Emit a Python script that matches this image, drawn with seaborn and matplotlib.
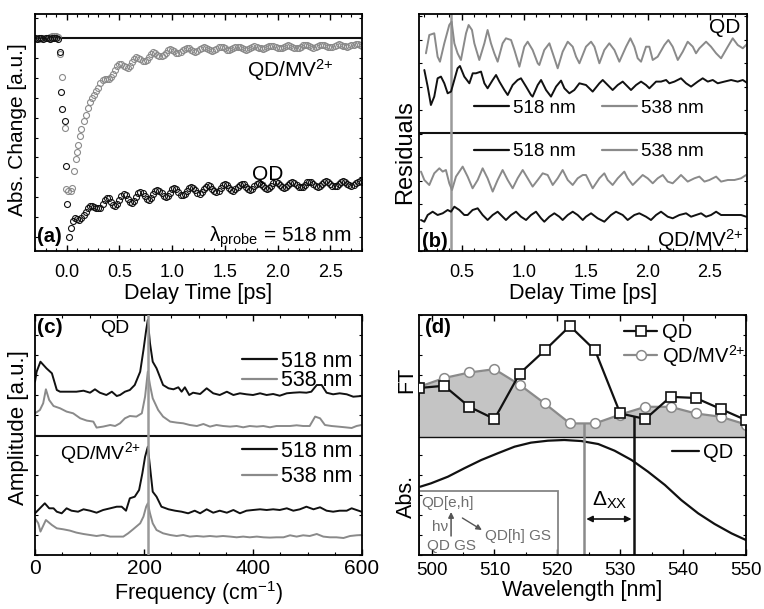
import numpy as np
import matplotlib
matplotlib.use("Agg")
import matplotlib.pyplot as plt
import seaborn as sns
from matplotlib.lines import Line2D
from matplotlib.patches import Rectangle
from matplotlib.ticker import MultipleLocator, NullFormatter

# ---------------- (a) transient absorption at 518 nm, normalised ----------------
t_pre = [-0.30, -0.28, -0.26, -0.24, -0.22, -0.20, -0.18, -0.16, -0.14, -0.12, -0.10, -0.08]
qd_pre = [0.002, -0.001, 0.003, 0.000, -0.002, 0.002, 0.001, -0.003, 0.002, 0.000, 0.004, -0.002]
mv_pre = [0.001, 0.003, -0.002, 0.002, 0.000, 0.004, 0.003, 0.006, 0.010, 0.014, 0.012, 0.008]

qd_rise_t = [-0.066, -0.054, -0.041, -0.019, -0.005, 0.006, 0.022]
qd_rise = [-0.070, -0.270, -0.355, -0.415, -0.644, -0.835, -1.000]
mv_rise_t = [-0.060, -0.041, -0.016, -0.006, 0.010, 0.038, 0.054, 0.070, 0.086, 0.100, 0.111, 0.124]
mv_rise = [-0.080, -0.193, -0.454, -0.761, -0.770, -0.768, -0.756, -0.667, -0.610, -0.571, -0.538, -0.492]

# sampled every 20 fs, QD from 0.04 ps, QD/MV from 0.14 ps
qd_tail = [-0.955, -0.920, -0.908, -0.910, -0.916, -0.908, -0.893, -0.874, -0.857, -0.847, -0.845, -0.850, -0.857,
           -0.857, -0.854, -0.833, -0.813, -0.804, -0.807, -0.823, -0.839, -0.844, -0.835,
           -0.815, -0.795, -0.786, -0.791, -0.808, -0.824, -0.829, -0.820, -0.801, -0.782,
           -0.773, -0.778, -0.793, -0.809, -0.813, -0.805, -0.787, -0.770, -0.763, -0.768,
           -0.782, -0.796, -0.801, -0.794, -0.778, -0.762, -0.755, -0.760, -0.774, -0.788,
           -0.792, -0.785, -0.770, -0.755, -0.748, -0.753, -0.766, -0.779, -0.783, -0.777,
           -0.762, -0.748, -0.741, -0.746, -0.758, -0.770, -0.775, -0.768, -0.755, -0.741,
           -0.735, -0.740, -0.752, -0.764, -0.769, -0.762, -0.750, -0.737, -0.732, -0.736,
           -0.748, -0.759, -0.763, -0.758, -0.746, -0.734, -0.729, -0.733, -0.744, -0.754,
           -0.758, -0.753, -0.742, -0.730, -0.726, -0.730, -0.740, -0.750, -0.755, -0.750,
           -0.739, -0.729, -0.724, -0.728, -0.738, -0.748, -0.751, -0.747, -0.737, -0.726,
           -0.722, -0.726, -0.736, -0.745, -0.749, -0.745, -0.735, -0.725, -0.721, -0.725,
           -0.734, -0.742, -0.746, -0.742, -0.733, -0.724, -0.720, -0.723, -0.732, -0.741,
           -0.743, -0.740, -0.731, -0.722, -0.719, -0.722]
mv_tail = [-0.455, -0.418, -0.385, -0.352, -0.322, -0.300, -0.286, -0.268, -0.248, -0.226,
           -0.212, -0.206, -0.206, -0.204, -0.196, -0.178, -0.159, -0.141, -0.130, -0.130,
           -0.139, -0.147, -0.148, -0.138, -0.121, -0.104, -0.095, -0.097, -0.105, -0.114,
           -0.116, -0.108, -0.093, -0.079, -0.071, -0.074, -0.082, -0.090, -0.091, -0.085,
           -0.073, -0.061, -0.056, -0.058, -0.065, -0.072, -0.075, -0.070, -0.061, -0.052,
           -0.048, -0.051, -0.058, -0.065, -0.068, -0.064, -0.056, -0.048, -0.045, -0.048,
           -0.054, -0.061, -0.064, -0.060, -0.053, -0.045, -0.043, -0.045, -0.051, -0.057,
           -0.060, -0.056, -0.050, -0.044, -0.042, -0.043, -0.049, -0.055, -0.057, -0.054,
           -0.048, -0.043, -0.040, -0.042, -0.047, -0.051, -0.053, -0.051, -0.045, -0.040,
           -0.038, -0.039, -0.044, -0.049, -0.051, -0.049, -0.043, -0.038, -0.036, -0.038,
           -0.043, -0.047, -0.049, -0.047, -0.042, -0.036, -0.034, -0.036, -0.041, -0.045,
           -0.047, -0.045, -0.039, -0.035, -0.033, -0.034, -0.038, -0.042, -0.044, -0.042,
           -0.037, -0.033, -0.031, -0.033, -0.037, -0.040, -0.042, -0.040, -0.036, -0.032,
           -0.029, -0.031, -0.035, -0.039]

# ---------------- (b) residuals ----------------
qd518_t = [0.199, 0.226, 0.252, 0.279, 0.306, 0.333, 0.360, 0.387, 0.414, 0.433, 0.467, 0.486, 0.521, 0.562,
           0.589, 0.615, 0.656, 0.683, 0.709, 0.750, 0.777, 0.804, 0.844, 0.871, 0.911, 0.951, 0.978, 1.019,
           1.059, 1.072, 1.113, 1.140, 1.180, 1.220, 1.261, 1.301, 1.328, 1.368, 1.408, 1.449, 1.502, 1.556,
           1.610, 1.637, 1.677, 1.717, 1.758, 1.798, 1.838, 1.865, 1.906, 1.946, 1.986, 2.013, 2.067, 2.107,
           2.148, 2.174, 2.215, 2.268, 2.309, 2.349, 2.403, 2.443, 2.484, 2.524, 2.564, 2.618, 2.672, 2.725,
           2.766, 2.806]
qd518_r = [13.3, -3.3, -21.7, -13.3, 5, 6.7, 0, -10, -8.3, 0, 15, 17.3, 6.7, 0, 10, 10, 11.7, 0, -5, 3.3,
           8.3, 1.7, -6.7, -11.7, -1.7, 3.3, 5, -3.3, -11.7, -13.3, -1.7, 3.3, -6.7, -13.3, -3.3, 2.7, -5, -10,
           -6.7, 0, -1.7, -8.3, 0, 3.3, -1.7, -6.7, -1.7, 1.7, -3.3, -6.7, -1.7, 1.7, -1.7, -5, 1.7, 1.7, 3.3,
           0, 1.7, 5, 0, -3.3, 1.7, 5, 1.7, 3.3, 0, 1.7, 3.3, 1.7, 3.3, 0]
qd538_t = [0.212, 0.239, 0.279, 0.306, 0.325, 0.360, 0.400, 0.419, 0.441, 0.467, 0.494, 0.535, 0.556, 0.583,
           0.602, 0.642, 0.683, 0.709, 0.736, 0.763, 0.790, 0.830, 0.857, 0.898, 0.925, 0.965, 1.005, 1.032,
           1.072, 1.113, 1.126, 1.166, 1.207, 1.234, 1.274, 1.314, 1.355, 1.395, 1.422, 1.449, 1.502, 1.543,
           1.570, 1.610, 1.650, 1.690, 1.731, 1.771, 1.825, 1.860, 1.892, 1.919, 1.946, 1.986, 2.013, 2.040,
           2.080, 2.134, 2.166, 2.201, 2.242, 2.282, 2.322, 2.363, 2.389, 2.416, 2.470, 2.510, 2.551, 2.591,
           2.645, 2.685, 2.725, 2.766, 2.806]
qd538_r = [-8.3, 10, 11.7, -11.7, -16.7, 1.7, 20, 23.3, 1.7, -8.3, -15, 11.7, 20, 15, 1.7, -15, 1.7, 15, 1.7,
           -8.3, -16.7, 1.7, 6.7, 5, -5, -21.7, -1.7, 3.3, -5, -18.3, -20, -5, 1.7, -8.3, -23.3, -6.7, 3.3,
           -1.7, -11.7, -18.3, -1.7, 3.3, -1.7, -18.3, -5, 1.7, -5, -16.7, -1.7, 6.7, -1.7, -13.3, -16.7, -1.7,
           -1.7, -15, -11.7, 0, 5, -1.7, -15, -6.7, 3.3, -1.7, -8.3, -3.3, 3.3, -1.7, -8.3, -13.3, -1.7, 6.7,
           0, -3.3, 1.7]
mv518_t = [0.172, 0.199, 0.226, 0.266, 0.306, 0.347, 0.387, 0.414, 0.441, 0.481, 0.521, 0.548, 0.588, 0.629,
           0.669, 0.709, 0.750, 0.790, 0.830, 0.857, 0.898, 0.938, 0.978, 1.019, 1.059, 1.099, 1.140, 1.166,
           1.207, 1.247, 1.287, 1.314, 1.355, 1.395, 1.435, 1.476, 1.502, 1.543, 1.596, 1.650, 1.704, 1.744,
           1.798, 1.838, 1.892, 1.932, 1.986, 2.026, 2.067, 2.107, 2.161, 2.201, 2.255, 2.309, 2.349, 2.389,
           2.430, 2.470, 2.510, 2.551, 2.591, 2.645, 2.699, 2.752, 2.793]
mv518_r = [-5, -6.7, 0, 3.3, 0, 1.7, 5, 3.3, 8.3, 5, 0, 0, 5, 6.7, 0, -5, 0, 3.3, -1.7, -5, 0, 3.3, -1.7,
           -5, 0, 3.3, -3.3, -6.7, -1.7, 1.7, -1.7, -5, 0, 3.3, 0, -5, -1.7, 1.7, -3.3, -6.7, 0, 3.3, 0, -5,
           0, 1.7, -1.7, -5, 0, 3.3, -1.7, -3.3, 0, 1.7, -1.7, 0, 1.7, -1.7, 0, 3.3, 0, 0, 0, 0, -1.7]
mv538_t = [0.172, 0.199, 0.239, 0.279, 0.320, 0.347, 0.373, 0.400, 0.422, 0.454, 0.508, 0.548, 0.588, 0.629,
           0.669, 0.709, 0.750, 0.790, 0.830, 0.871, 0.911, 0.951, 0.992, 1.032, 1.072, 1.113, 1.153, 1.193,
           1.234, 1.274, 1.314, 1.355, 1.395, 1.435, 1.476, 1.502, 1.556, 1.610, 1.650, 1.677, 1.717, 1.758,
           1.811, 1.838, 1.879, 1.919, 1.959, 1.999, 2.040, 2.080, 2.121, 2.161, 2.201, 2.242, 2.268, 2.322,
           2.376, 2.416, 2.457, 2.497, 2.551, 2.591, 2.645, 2.699, 2.752, 2.793]
mv538_r = [6.7, -1.7, -6.7, 5, 10, 6.7, 8.3, -5, -11.7, 1.7, 11.7, 1.7, -10, -1.7, 10, 0, -13.3, -1.7, 8.3,
           -1.7, -10, 0, 8.3, 0, -8.3, -1.7, 5, 3.3, -6.7, 0, 8.3, -1.7, -6.7, 0, 3.3, 3.3, -10, 0, 5, -1.7,
           -6.7, 0, 6.7, 0, -6.7, -1.7, 3.3, 0, -5, 0, 3.3, -3.3, -5, 0, 3.3, -3.3, 0, 1.7, -3.3, -1.7, 1.7,
           -3.3, -1.7, -1.7, 0, 3.3]
coherent_t = 0.414

# ---------------- (c) Fourier amplitude ----------------
qd518_f = [0, 3, 10, 21, 31, 40, 46, 58, 76, 89, 101, 110, 119, 131, 141, 150, 156, 165, 174, 183, 193, 199,
           204, 207, 211, 216, 223, 235, 245, 254, 263, 269, 275, 283, 290, 303, 315, 327, 339, 352, 364, 376,
           388, 400, 413, 425, 437, 449, 462, 474, 486, 498, 507, 517, 526, 535, 547, 559, 572, 584, 599]
qd518_a = [18.3, 28.3, 38.3, 31.7, 26.7, 10, 8.3, 8.3, 8.3, 9.3, 7.3, 10.7, 7.3, 5, 8.3, 4, 5, 8.3, 10, 15,
           28.3, 50, 70, 80, 56.7, 38.3, 31.7, 15, 11.7, 10.7, 12.7, 8.3, 12.7, 5, 7.3, 6, 11.7, 6.7, 5, 8.3,
           5, 6.7, 5.7, 5, 6.7, 5, 6, 4.3, 6.7, 7.3, 7.7, 7.3, 8.3, 15, 15, 7.3, 5.7, 6.7, 5.7, 3.3, 4]
qd538_f = [0, 9, 15, 20, 26, 34, 46, 58, 70, 83, 95, 107, 113, 125, 138, 147, 156, 165, 174, 186, 196, 202,
           207, 211, 216, 226, 235, 248, 260, 272, 284, 297, 309, 321, 333, 345, 358, 370, 382, 394, 407, 419,
           431, 443, 456, 468, 480, 492, 504, 514, 523, 532, 544, 556, 569, 581, 590, 599]
qd538_a = [20, 23.3, 30, 44, 33.3, 27.3, 25, 21.7, 20, 15, 12.7, 11.7, 5.7, 6.7, 8.3, 7.3, 10, 15, 17.3,
           16.7, 20, 36.7, 61.7, 48.3, 35, 23.3, 16.7, 11.7, 10.7, 10, 8.3, 7.3, 9.3, 6.7, 8.3, 7.3, 6.7, 7.3,
           6, 7.3, 6.7, 7.3, 6, 7.3, 7.3, 7.3, 8, 7.3, 7.3, 16.7, 15, 8.3, 7.3, 6.7, 6, 5.3, 7.3, 8.3]
mv518_f = [0, 9, 18, 26, 34, 40, 49, 58, 67, 79, 89, 101, 113, 125, 138, 150, 159, 167, 174, 183, 191, 197,
           202, 207, 211, 216, 223, 232, 245, 257, 269, 281, 293, 303, 315, 327, 339, 352, 364, 376, 388, 400,
           413, 425, 437, 449, 462, 474, 486, 498, 511, 523, 535, 547, 559, 572, 581, 590, 599]
mv518_a = [6.7, 11.7, 16.7, 11.7, 11.7, 8.3, 6.7, 11.7, 9.3, 8.3, 10.7, 9.3, 7.3, 10, 11.7, 13.3, 13.3, 9.3,
           21.7, 23.3, 30, 46.7, 63.3, 73.3, 53.3, 28.3, 23.3, 13.3, 10.7, 9.3, 8.3, 6.7, 9.3, 6.7, 10.7, 7.3,
           9.3, 7.3, 10, 6.7, 9.3, 10, 10.7, 10, 10.7, 10, 11.7, 9.3, 10.7, 13.3, 10.7, 12.7, 9.3, 8.3, 9.3,
           9.3, 11.7, 10, 8.3]
mv538_f = [0, 6, 10, 20, 31, 40, 52, 64, 76, 89, 101, 113, 125, 138, 150, 162, 171, 180, 193, 199, 204, 207,
           211, 216, 223, 235, 248, 260, 272, 284, 297, 309, 321, 333, 345, 358, 370, 382, 394, 407, 419, 431,
           443, 456, 468, 480, 492, 504, 517, 529, 541, 553, 566, 578, 590, 599]
mv538_a = [25, 20, 11.7, 23.3, 18.3, 15, 14, 12.7, 10.7, 9.3, 8.3, 7.3, 8.3, 6.7, 6.7, 6.7, 10, 14, 20, 26.7,
           36.7, 40, 30, 20, 13.3, 10, 8.3, 7.3, 8.3, 6.7, 7.3, 6.7, 7.3, 6.7, 7.3, 6.7, 6, 6.7, 6, 6.7, 6, 5.7,
           6, 6, 8, 6.7, 8, 7.3, 9.3, 6.7, 6, 6, 5.3, 7.3, 8, 8.3]
phonon_freq = 207

# ---------------- (d) FT amplitude vs probe wavelength + absorption ----------------
wl_ft = [498, 502, 506, 510, 514, 518, 522, 526, 530, 534, 538, 542, 546, 550]
ft_qd = [0.44, 0.46, 0.27, 0.16, 0.57, 0.78, 1.00, 0.78, 0.21, 0.16, 0.36, 0.35, 0.25, 0.15]
ft_mv = [0.45, 0.53, 0.58, 0.61, 0.47, 0.30, 0.12, 0.12, 0.20, 0.27, 0.27, 0.21, 0.18, 0.11]
wl_abs = [498.2, 499.9, 502.6, 505.2, 507.9, 510.5, 513.2, 515.8, 518.5, 521.1, 523.8, 526.5, 529.1,
          531.8, 534.4, 537.1, 539.7, 542.4, 545.0, 547.7, 550.2]
abs_qd = [0.594, 0.623, 0.681, 0.754, 0.826, 0.884, 0.942, 0.977, 0.994, 1.000, 0.991, 0.965, 0.907,
          0.826, 0.725, 0.609, 0.478, 0.362, 0.270, 0.188, 0.125]
node_mv, node_qd = 524.2, 532.2

BLACK = "#111111"
GRAY = "#8a8a8a"
VGRAY = "#9a9a9a"
FILL = "#c4c4c4"
INSET = "#6e6e6e"
MV_LABEL = "QD/MV$^{2{+}}$"

sns.set_theme(style="ticks")
plt.rcParams.update({
    "font.family": ["Liberation Sans", "DejaVu Sans"],
    "mathtext.fontset": "custom",
    "mathtext.rm": "Liberation Sans",
    "mathtext.it": "Liberation Sans:italic",
    "mathtext.bf": "Liberation Sans:bold",
    "font.size": 14,
    "axes.linewidth": 1.3,
    "axes.edgecolor": "black",
    "axes.labelcolor": "black",
    "text.color": "black",
    "xtick.color": "black",
    "ytick.color": "black",
    "xtick.direction": "in",
    "ytick.direction": "in",
    "xtick.top": True,
    "ytick.right": True,
    "xtick.major.size": 4,
    "xtick.minor.size": 2,
    "ytick.major.size": 2.5,
    "ytick.minor.size": 2,
    "xtick.major.width": 1.0,
    "xtick.minor.width": 0.8,
    "ytick.major.width": 0.8,
    "xtick.labelsize": 13,
    "ytick.labelsize": 13,
    "axes.labelsize": 15.5,
})

fig = plt.figure(figsize=(7.64, 6.09), dpi=100)
W, H = 764, 609
ax_a = fig.add_axes([35 / W, 1 - 251 / H, 327 / W, 237 / H])
ax_b = fig.add_axes([419 / W, 1 - 251 / H, 328 / W, 237 / H])
ax_c = fig.add_axes([35 / W, 1 - 555 / H, 327 / W, 240 / H])
ax_d = fig.add_axes([419 / W, 1 - 555 / H, 327 / W, 240 / H])


def ylab(ax, x, y, s, size):
    ax.text(x, y, s, rotation=90, ha="center", va="center", fontsize=size, transform=ax.transAxes)


def note(ax, x, y, s, size, ha="left", **kw):
    ax.text(x, y, s, ha=ha, va="baseline", fontsize=size, transform=ax.transAxes, **kw)


def line(ax, x, y, color, **kw):
    sns.lineplot(x=np.asarray(x, float), y=np.asarray(y, float), ax=ax, color=color,
                 estimator=None, sort=False, **kw)


# ---- (a)
grid_qd = np.round(np.arange(0.04, 2.801, 0.02), 2)
grid_mv = np.round(np.arange(0.14, 2.801, 0.02), 2)
t_qd = np.concatenate([t_pre, qd_rise_t, grid_qd])
y_qd = np.concatenate([qd_pre, qd_rise, qd_tail])
t_mv = np.concatenate([t_pre, mv_rise_t, grid_mv])
y_mv = np.concatenate([mv_pre, mv_rise, mv_tail])

ax_a.axhline(0, color=BLACK, lw=1.5, zorder=1)
circ = dict(linestyle="none", marker="o", markersize=4.3, markerfacecolor="none", markeredgewidth=0.8)
line(ax_a, t_mv, y_mv, GRAY, markeredgecolor=GRAY, **circ)
line(ax_a, t_qd, y_qd, BLACK, markeredgecolor=BLACK, **circ)
ax_a.set_xlim(-0.3, 2.8)
ax_a.set_ylim(-1.072, 0.1225)
ax_a.xaxis.set_major_locator(MultipleLocator(0.5))
ax_a.xaxis.set_minor_locator(MultipleLocator(0.1))
ax_a.yaxis.set_major_locator(MultipleLocator(0.1))
ax_a.yaxis.set_major_formatter(NullFormatter())
ax_a.tick_params(axis="x", pad=9)
ax_a.set_xlabel("Delay Time [ps]", labelpad=2)
ylab(ax_a, -0.052, 0.513, "Abs. Change [a.u.]", 15)
note(ax_a, 0.912, 0.7355, MV_LABEL, 15, ha="right")
note(ax_a, 0.663, 0.30, "QD", 15)
note(ax_a, 0.968, 0.039, "λ$_{\\mathrm{probe}}$ = 518 nm", 15, ha="right")
note(ax_a, 0.006, 0.039, "(a)", 14.5, fontweight="bold")

# ---- (b)
b_off = {"qd538": 206.0, "qd518": 167.7, "mv538": 72.7, "mv518": 36.0}
ax_b.axhline(118, color=BLACK, lw=1.5, zorder=1)
ax_b.axvline(coherent_t, color=VGRAY, lw=1.8, zorder=1)
line(ax_b, qd538_t, np.array(qd538_r) + b_off["qd538"], GRAY, lw=1.4)
line(ax_b, qd518_t, np.array(qd518_r) + b_off["qd518"], BLACK, lw=1.4)
line(ax_b, mv538_t, np.array(mv538_r) + b_off["mv538"], GRAY, lw=1.4)
line(ax_b, mv518_t, np.array(mv518_r) + b_off["mv518"], BLACK, lw=1.4)
ax_b.set_xlim(0.156, 2.8)
ax_b.set_ylim(0, 237)
ax_b.xaxis.set_major_locator(MultipleLocator(0.5))
ax_b.xaxis.set_minor_locator(MultipleLocator(0.1))
ax_b.yaxis.set_major_locator(MultipleLocator(23.5))
ax_b.yaxis.set_major_formatter(NullFormatter())
ax_b.tick_params(axis="x", pad=9)
ax_b.set_xlabel("Delay Time [ps]", labelpad=2)
ylab(ax_b, -0.043, 0.418, "Residuals", 17)
h518 = Line2D([], [], color=BLACK, lw=1.6)
h538 = Line2D([], [], color=GRAY, lw=1.6)
leg_kw = dict(frameon=False, borderpad=0, borderaxespad=0)
b_leg = dict(ncol=2, loc="center", fontsize=13.5, handlelength=1.87, handletextpad=0.22,
             columnspacing=1.4, **leg_kw)
leg = ax_b.legend([h518, h538], ["518 nm", "538 nm"], bbox_to_anchor=(0.518, 0.603), **b_leg)
ax_b.add_artist(leg)
ax_b.legend([h518, h538], ["518 nm", "538 nm"], bbox_to_anchor=(0.518, 0.418), **b_leg)
note(ax_b, 0.979, 0.9186, "QD", 15, ha="right")
note(ax_b, 0.989, 0.018, MV_LABEL, 15, ha="right")
note(ax_b, 0.008, 0.018, "(b)", 14.5, fontweight="bold")

# ---- (c)
c_off = {"qd518": 155.0, "qd538": 121.7, "mv518": 35.0, "mv538": 11.7}
ax_c.axhline(119, color=BLACK, lw=1.5, zorder=1)
ax_c.axvline(phonon_freq, color=VGRAY, lw=1.8, zorder=3)
line(ax_c, qd538_f, np.array(qd538_a) + c_off["qd538"], GRAY, lw=1.4)
line(ax_c, qd518_f, np.array(qd518_a) + c_off["qd518"], BLACK, lw=1.4)
line(ax_c, mv538_f, np.array(mv538_a) + c_off["mv538"], GRAY, lw=1.4)
line(ax_c, mv518_f, np.array(mv518_a) + c_off["mv518"], BLACK, lw=1.4)
ax_c.set_xlim(0, 600)
ax_c.set_ylim(0, 240)
ax_c.xaxis.set_major_locator(MultipleLocator(200))
ax_c.xaxis.set_minor_locator(MultipleLocator(50))
ax_c.yaxis.set_major_locator(MultipleLocator(20))
ax_c.yaxis.set_major_formatter(NullFormatter())
ax_c.tick_params(axis="x", pad=3, labelsize=15)
ax_c.set_xlabel("Frequency (cm$^{-1}$)", fontsize=15.5)
ax_c.xaxis.set_label_coords(0.5, -0.1)
ylab(ax_c, -0.050, 0.533, "Amplitude [a.u.]", 16)
c_leg = dict(loc="center right", fontsize=15.5, handlelength=1.63, handletextpad=0.2, **leg_kw)
leg = ax_c.legend([h518, h538], ["518 nm", "538 nm"], labelspacing=-0.06,
                  bbox_to_anchor=(0.972, 0.767), **c_leg)
ax_c.add_artist(leg)
ax_c.legend([h518, h538], ["518 nm", "538 nm"], labelspacing=0.22,
            bbox_to_anchor=(0.972, 0.379), **c_leg)
note(ax_c, 0.006, 0.924, "(c)", 15, fontweight="bold")
note(ax_c, 0.199, 0.924, "QD", 14)
note(ax_c, 0.0765, 0.399, MV_LABEL, 14)

# ---- (d)
FT0, FT_SCALE, ABS_SCALE = 118.3, 110.7, 115.0
ft_qd_y = FT0 + FT_SCALE * np.array(ft_qd)
ft_mv_y = FT0 + FT_SCALE * np.array(ft_mv)
ax_d.fill_between(wl_ft, FT0, ft_mv_y, color=FILL, lw=0, zorder=1)
ax_d.axhline(FT0, color=BLACK, lw=1.0, zorder=1.5)
mv_style = dict(lw=1.6, marker="o", markersize=7.0, markerfacecolor="white", markeredgecolor=GRAY,
                markeredgewidth=1.1)
qd_style = dict(lw=1.6, marker="s", markersize=7.2, markerfacecolor="white", markeredgecolor=BLACK,
                markeredgewidth=1.2)
line(ax_d, wl_ft, ft_mv_y, GRAY, zorder=2, **mv_style)
line(ax_d, wl_abs, ABS_SCALE * np.array(abs_qd), BLACK, lw=1.6)
ax_d.vlines(node_mv, 0, np.interp(node_mv, wl_ft, ft_mv_y), color=GRAY, lw=1.8, zorder=2.5)
ax_d.vlines(node_qd, 0, np.interp(node_qd, wl_ft, ft_qd_y), color=BLACK, lw=1.8, zorder=2.5)
line(ax_d, wl_ft, ft_qd_y, BLACK, zorder=3, **qd_style)
ax_d.set_xlim(498, 550)
ax_d.set_ylim(0, 240)
ax_d.xaxis.set_major_locator(MultipleLocator(10))
ax_d.xaxis.set_minor_locator(MultipleLocator(5))
ax_d.yaxis.set_major_locator(MultipleLocator(20))
ax_d.yaxis.set_major_formatter(NullFormatter())
ax_d.tick_params(axis="x", pad=5, labelsize=13.5)
ax_d.set_xlabel("Wavelength [nm]", labelpad=1, fontsize=15.5)
ylab(ax_d, -0.038, 0.73, "FT", 15.5)
ylab(ax_d, -0.037, 0.242, "Abs.", 15.5)
note(ax_d, 0.018, 0.924, "(d)", 14.5, fontweight="bold")

leg = ax_d.legend([Line2D([], [], color=BLACK, **qd_style), Line2D([], [], color=GRAY, **mv_style)],
                  ["QD", MV_LABEL], loc="center left", labelspacing=0.05, fontsize=14.5,
                  bbox_to_anchor=(0.628, 0.872), handlelength=1.64, handletextpad=0.22, **leg_kw)
ax_d.add_artist(leg)
ax_d.legend([Line2D([], [], color=BLACK, lw=1.6)], ["QD"], loc="center right", fontsize=14.5,
            bbox_to_anchor=(0.96, 0.425), handlelength=1.34, handletextpad=0.2, **leg_kw)

# exciton-biexciton splitting
ax_d.annotate("", xy=(node_mv + 0.4, 36), xytext=(node_qd - 0.4, 36),
              arrowprops=dict(arrowstyle="<|-|>", color=BLACK, lw=1.2, mutation_scale=9,
                              shrinkA=0, shrinkB=0))
ax_d.text(528.3, 55, "Δ$_{\\mathrm{XX}}$", ha="center", va="center", fontsize=15)

# inset scheme
ax_d.add_patch(Rectangle((498, 0), 22.1, 64.3, fill=False, edgecolor="#858585", lw=1.3, zorder=2))
ax_d.text(502.6, 52, "QD[e,h]", ha="center", va="center", fontsize=11, color=INSET)
ax_d.text(501.3, 28, "hν", ha="center", va="center", fontsize=11, color=INSET)
ax_d.text(503.1, 9, "QD GS", ha="center", va="center", fontsize=11, color=INSET)
ax_d.text(513.7, 19, "QD[h] GS", ha="center", va="center", fontsize=11, color=INSET)
ax_d.annotate("", xy=(503.1, 43), xytext=(503.1, 19),
              arrowprops=dict(arrowstyle="-|>", color="#555555", lw=1.1, mutation_scale=8,
                              shrinkA=0, shrinkB=0))
ax_d.annotate("", xy=(508.0, 25), xytext=(504.9, 37),
              arrowprops=dict(arrowstyle="-|>", color="#555555", lw=1.0, mutation_scale=8,
                              shrinkA=0, shrinkB=0))

fig.savefig("out.png", dpi=100)
